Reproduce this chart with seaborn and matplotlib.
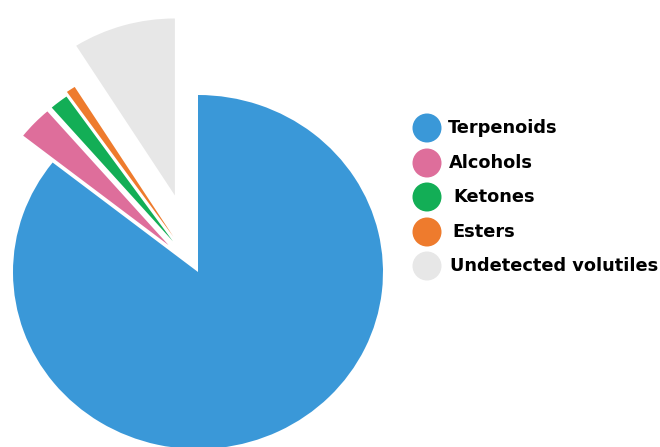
import matplotlib
matplotlib.use("Agg")
import matplotlib.pyplot as plt
import seaborn as sns

categories = ["Terpenoids", "Alcohols", "Ketones", "Esters", "Undetected volutiles"]
values = [85.1, 3.0, 1.6, 0.8, 8.9]
explode = [0.0, 0.22, 0.22, 0.24, 0.45]
colors = ["#3A98D8", "#DE6E9B", "#13AE56", "#EE7B2D", "#E7E7E7"]
label_dx = [0, 1, 5, 4, 2]  # small horizontal offsets of legend labels in the source

sns.set_theme(style="white")
plt.rcParams["font.family"] = ["DejaVu Sans"]

W, H = 660, 447
fig = plt.figure(figsize=(W / 100, H / 100), dpi=100)
fig.patch.set_facecolor("white")

# pie axes: centre at pixel (198, 272), rx = 185 px, ry = 177 px
ax = fig.add_axes([0, 0, 1, 1])
cx, cy, rx, ry = 198, 272, 185, 177
ax.pie(values, explode=explode, colors=colors, startangle=90, counterclock=False,
       wedgeprops=dict(linewidth=0))
ax.set_aspect("auto")
ax.set_xlim(-cx / rx, (W - cx) / rx)
ax.set_ylim(-(H - cy) / ry, cy / ry)
ax.axis("off")

# legend overlay in pixel coordinates
lx = fig.add_axes([0, 0, 1, 1])
lx.set_xlim(0, W)
lx.set_ylim(H, 0)
lx.axis("off")
ys = [128, 163, 197, 232, 266]
for cat, col, y, dx in zip(categories, colors, ys, label_dx):
    lx.scatter([427], [y], s=(29 * 0.72) ** 2, color=col, edgecolors="none", zorder=3)
    lx.text(448 + dx, y, cat, fontsize=12.8, fontweight="bold", color="black",
            va="center", ha="left")

fig.savefig("out.png", dpi=100, facecolor="white")
